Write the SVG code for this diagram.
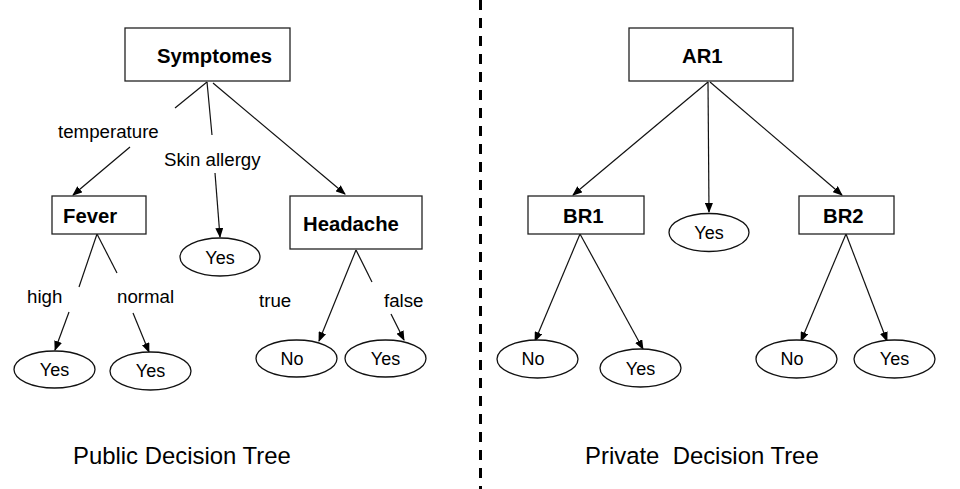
<svg xmlns="http://www.w3.org/2000/svg" width="960" height="489" viewBox="0 0 960 489">
<defs>
<marker id="ah" markerWidth="10" markerHeight="8" refX="9" refY="4" orient="auto" markerUnits="userSpaceOnUse">
<path d="M0,0 L10,4 L0,8 Z" fill="#000"/>
</marker>
<style>
.box{fill:#fff;stroke:#222;stroke-width:1.3}
.ell{fill:#fff;stroke:#111;stroke-width:1.3}
.bt{font-family:"Liberation Sans",Arial,sans-serif;font-weight:bold;font-size:20.3px;fill:#000}
.nt{font-family:"Liberation Sans",Arial,sans-serif;font-size:18px;fill:#000;text-anchor:middle}
.lt{font-family:"Liberation Sans",Arial,sans-serif;font-size:18.7px;fill:#000}
.tt{font-family:"Liberation Sans",Arial,sans-serif;font-size:23.9px;fill:#000}
.ln{stroke:#111;stroke-width:1.2;fill:none}
.ar{stroke:#111;stroke-width:1.2;fill:none;marker-end:url(#ah)}
</style>
</defs>
<rect width="960" height="489" fill="#fff"/>
<line x1="480.5" y1="0" x2="480.5" y2="489" stroke="#000" stroke-width="3" stroke-dasharray="10 8"/>

<g id="connectors">
<line class="ln" x1="207" y1="82" x2="175" y2="108"/>
<line class="ar" x1="130" y1="147" x2="73" y2="195"/>
<line class="ln" x1="207" y1="82" x2="212" y2="135"/>
<line class="ar" x1="215" y1="173" x2="220" y2="237"/>
<line class="ar" x1="213" y1="83" x2="345" y2="194"/>
<line class="ln" x1="97" y1="234" x2="79" y2="287"/>
<line class="ar" x1="69" y1="312" x2="55" y2="350"/>
<line class="ln" x1="97" y1="234" x2="117" y2="273"/>
<line class="ar" x1="133" y1="313" x2="149" y2="352"/>
<line class="ar" x1="356" y1="250" x2="319" y2="341"/>
<line class="ln" x1="356" y1="250" x2="372" y2="282"/>
<line class="ar" x1="391" y1="314" x2="404" y2="340"/>
<line class="ar" x1="708" y1="82" x2="573" y2="195"/>
<line class="ar" x1="708" y1="82" x2="709" y2="212"/>
<line class="ar" x1="710" y1="82" x2="842" y2="195"/>
<line class="ar" x1="580" y1="234" x2="535" y2="341"/>
<line class="ar" x1="580" y1="234" x2="643" y2="349"/>
<line class="ar" x1="846" y1="234" x2="801" y2="341"/>
<line class="ar" x1="846" y1="234" x2="887" y2="341"/>
</g>

<g id="labels">
<text class="lt" x="58" y="138">temperature</text>
<text class="lt" x="164" y="166">Skin allergy</text>
<text class="lt" x="27" y="303">high</text>
<text class="lt" x="117" y="303">normal</text>
<text class="lt" x="259" y="307">true</text>
<text class="lt" x="384" y="307">false</text>
</g>

<g id="symptomes"><rect class="box" x="125" y="28" width="165" height="53"/><text class="bt" x="157" y="63">Symptomes</text></g>
<g id="fever"><rect class="box" x="52" y="196" width="94" height="38"/><text class="bt" x="63" y="223">Fever</text></g>
<g id="headache"><rect class="box" x="290" y="196" width="132" height="53"/><text class="bt" x="303" y="231">Headache</text></g>
<g id="yes-skin"><ellipse class="ell" cx="220" cy="257" rx="40" ry="19"/><text class="nt" x="220" y="264">Yes</text></g>
<g id="yes-high"><ellipse class="ell" cx="54.5" cy="369.5" rx="40.5" ry="18.5"/><text class="nt" x="54.5" y="376">Yes</text></g>
<g id="yes-normal"><ellipse class="ell" cx="150.5" cy="371" rx="40.5" ry="19"/><text class="nt" x="150.5" y="377">Yes</text></g>
<g id="no-true"><ellipse class="ell" cx="296.5" cy="358.5" rx="40.5" ry="18.5"/><text class="nt" x="292" y="365">No</text></g>
<g id="yes-false"><ellipse class="ell" cx="385.5" cy="358.5" rx="40.5" ry="18.5"/><text class="nt" x="385.5" y="365">Yes</text></g>

<g id="ar1"><rect class="box" x="629" y="28" width="164" height="53"/><text class="bt" x="682" y="63">AR1</text></g>
<g id="br1"><rect class="box" x="528" y="196" width="116" height="38"/><text class="bt" x="563" y="223">BR1</text></g>
<g id="br2"><rect class="box" x="799" y="196" width="95" height="38"/><text class="bt" x="823" y="223">BR2</text></g>
<g id="yes-ar1"><ellipse class="ell" cx="709" cy="232.5" rx="40" ry="19"/><text class="nt" x="709" y="239">Yes</text></g>
<g id="no-br1"><ellipse class="ell" cx="537.5" cy="359" rx="40.5" ry="19"/><text class="nt" x="533" y="365">No</text></g>
<g id="yes-br1"><ellipse class="ell" cx="640.5" cy="368" rx="40.5" ry="19"/><text class="nt" x="640.5" y="375">Yes</text></g>
<g id="no-br2"><ellipse class="ell" cx="796.5" cy="359" rx="40.5" ry="19"/><text class="nt" x="792" y="365">No</text></g>
<g id="yes-br2"><ellipse class="ell" cx="894.5" cy="359" rx="40.5" ry="19"/><text class="nt" x="894.5" y="365">Yes</text></g>

<g id="titles">
<text class="tt" x="73" y="464">Public Decision Tree</text>
<text class="tt" x="585" y="464" xml:space="preserve">Private  Decision Tree</text>
</g>
</svg>
